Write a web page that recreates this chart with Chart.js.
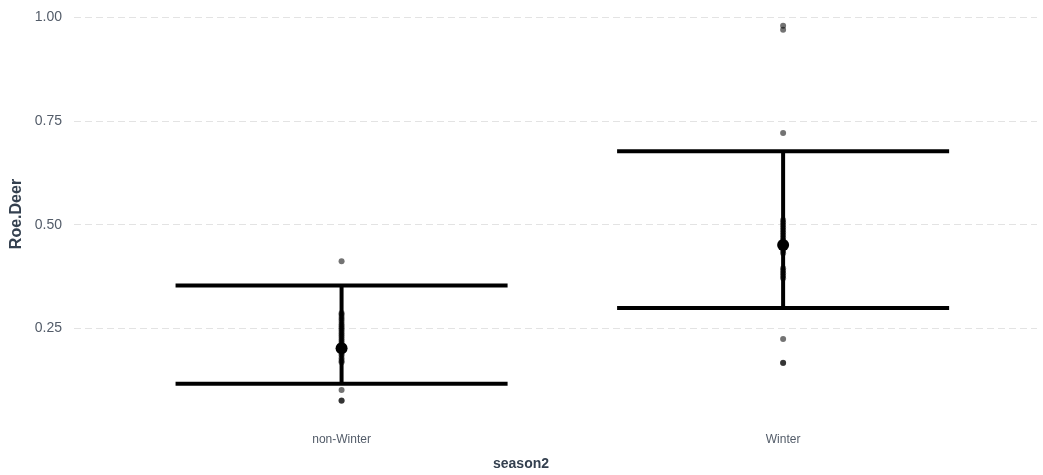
<!DOCTYPE html>
<html lang="en">
<head>
    <meta charset="UTF-8">
    <title>Roe.Deer by season2</title>
    <style>
        body { margin: 0; padding: 0; background: #ffffff; }
        #wrap { width: 1043px; height: 475px; position: relative; }
    </style>
    <script src="https://cdn.jsdelivr.net/npm/chart.js"></script>
</head>
<body>
    <div id="wrap">
        <canvas id="deerChart"></canvas>
    </div>

    <script>
        // data
        const categories = ['non-Winter', 'Winter'];
        const yTicks = [0.25, 0.50, 0.75, 1.00];
        const means = [0.202, 0.451];
        const ciLow = [0.116, 0.299];
        const ciHigh = [0.353, 0.677];

        const nonWinterObs = [
            0.412, 0.287, 0.283, 0.277, 0.272, 0.266, 0.260, 0.255, 0.250, 0.245,
            0.240, 0.235, 0.230, 0.225, 0.220, 0.215, 0.210, 0.205, 0.200, 0.195,
            0.190, 0.185, 0.178, 0.172, 0.168, 0.101, 0.076, 0.075
        ];
        const winterObs = [
            0.980, 0.970, 0.721, 0.511, 0.505, 0.499, 0.493, 0.487, 0.481, 0.475,
            0.469, 0.463, 0.458, 0.443, 0.437, 0.431, 0.395, 0.389, 0.383, 0.377,
            0.371, 0.224, 0.167, 0.166
        ];

        const capHalf = 0.376;
        const textCol = '#535c69';
        const titleCol = '#34404f';

        const obsData = [];
        nonWinterObs.forEach(v => obsData.push({ x: 1, y: v }));
        winterObs.forEach(v => obsData.push({ x: 2, y: v }));

        const lineStyle = {
            type: 'line',
            borderColor: '#000000',
            borderWidth: 4,
            pointRadius: 0,
            showLine: true,
            fill: false,
            borderCapStyle: 'butt'
        };

        const barSets = [];
        categories.forEach((c, i) => {
            const x = i + 1;
            barSets.push(Object.assign({}, lineStyle, { data: [{ x: x, y: ciLow[i] }, { x: x, y: ciHigh[i] }] }));
            barSets.push(Object.assign({}, lineStyle, { data: [{ x: x - capHalf, y: ciHigh[i] }, { x: x + capHalf, y: ciHigh[i] }] }));
            barSets.push(Object.assign({}, lineStyle, { data: [{ x: x - capHalf, y: ciLow[i] }, { x: x + capHalf, y: ciLow[i] }] }));
        });

        const axisTitles = {
            id: 'axisTitles',
            afterDraw(chart) {
                const ctx = chart.ctx;
                ctx.save();
                ctx.fillStyle = titleCol;
                ctx.textAlign = 'center';
                ctx.textBaseline = 'middle';
                ctx.font = 'bold 14px "Liberation Sans", Arial, sans-serif';
                ctx.fillText('season2', 521, 464);
                ctx.font = 'bold 16px "Liberation Sans", Arial, sans-serif';
                ctx.translate(17, 214);
                ctx.rotate(-Math.PI / 2);
                ctx.fillText('Roe.Deer', 0, 0);
                ctx.restore();
            }
        };

        new Chart(document.getElementById('deerChart'), {
            type: 'scatter',
            data: {
                datasets: [
                    ...barSets,
                    {
                        data: obsData,
                        backgroundColor: 'rgba(0,0,0,0.55)',
                        borderWidth: 0,
                        pointRadius: 3
                    },
                    {
                        data: means.map((m, i) => ({ x: i + 1, y: m })),
                        backgroundColor: '#000000',
                        borderWidth: 0,
                        pointRadius: 6
                    }
                ]
            },
            options: {
                responsive: true,
                maintainAspectRatio: false,
                animation: false,
                layout: { padding: { top: 7, right: 0, bottom: 0, left: 0 } },
                plugins: {
                    legend: { display: false },
                    tooltip: { enabled: false }
                },
                scales: {
                    x: {
                        type: 'linear',
                        min: 0.394,
                        max: 2.575,
                        afterBuildTicks: s => { s.ticks = categories.map((c, i) => ({ value: i + 1 })); },
                        afterFit: s => { s.height = 55.5; s.paddingLeft = 0; s.paddingRight = 0; },
                        ticks: {
                            callback: v => categories[v - 1],
                            color: textCol,
                            font: { family: '"Liberation Sans", Arial, sans-serif', size: 12 },
                            padding: 13,
                            maxRotation: 0
                        },
                        grid: { display: false, drawTicks: false },
                        border: { display: false }
                    },
                    y: {
                        min: 0.03,
                        max: 1.025,
                        afterBuildTicks: s => { s.ticks = yTicks.map(v => ({ value: v })); },
                        afterFit: s => { s.width = 74; s.paddingTop = 0; s.paddingBottom = 0; },
                        ticks: {
                            callback: v => v.toFixed(2),
                            color: textCol,
                            font: { family: '"Liberation Sans", Arial, sans-serif', size: 14 },
                            padding: 12
                        },
                        grid: { color: '#e3e3e3', lineWidth: 1, drawTicks: false },
                        border: { display: false, dash: [7, 4] }
                    }
                }
            },
            plugins: [axisTitles]
        });
    </script>
</body>
</html>
